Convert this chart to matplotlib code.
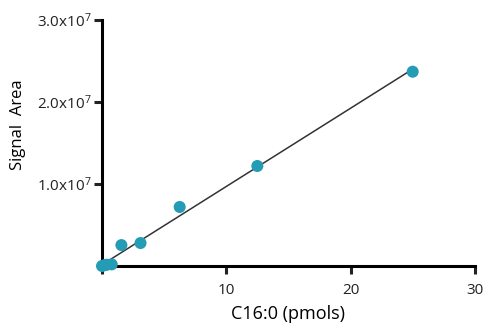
import numpy as np
import matplotlib
matplotlib.use("Agg")
import matplotlib.pyplot as plt
from matplotlib.ticker import FuncFormatter

plt.rcParams['font.family'] = ['Open Sans', 'DejaVu Sans']
plt.rcParams['mathtext.fontset'] = 'custom'
plt.rcParams['mathtext.rm'] = 'Open Sans'
plt.rcParams['mathtext.it'] = 'Open Sans'

# C16:0 standard curve
pmols = [0.0, 0.2, 0.39, 0.78, 1.56, 3.1, 6.25, 12.5, 25.0]
signal = [0.0, 0.1e6, 0.15e6, 0.2e6, 2.55e6, 2.8e6, 7.2e6, 12.2e6, 23.7e6]

x_ticks = [0, 10, 20, 30]
x_labels = ["", "10", "20", "30"]
y_ticks = [1e7, 2e7, 3e7]

fig = plt.figure(figsize=(4.89, 3.29), dpi=100)
ax = fig.add_axes([0.2086, 0.1915, 0.971 - 0.2086, 0.939 - 0.1915])

# least-squares line through the standards
slope, intercept = np.polyfit(pmols, signal, 1)
xs = np.array([0.0, max(pmols)])
ax.plot(xs, slope * xs + intercept, color='#333333', linewidth=1.1, zorder=3)
ax.scatter(pmols, signal, s=75, color='#259cb5', edgecolors='none', zorder=4, clip_on=False)

ax.set_xlim(0, 30)
ax.set_ylim(0, 3e7)
ax.set_xticks(x_ticks)
ax.set_xticklabels(x_labels)
ax.set_yticks(y_ticks)
ax.yaxis.set_major_formatter(FuncFormatter(lambda v, p: r"%.1fx10$^{7}$" % (v / 1e7)))

for side in ['top', 'right']:
    ax.spines[side].set_visible(False)
for side in ['left', 'bottom']:
    ax.spines[side].set_linewidth(2.2)
ax.tick_params(direction='out', length=5.5, width=2.2, labelsize=11, colors='#222222')
ax.tick_params(axis='x', pad=7)
ax.tick_params(axis='y', pad=2)

ax.set_xlabel("C16:0 (pmols)", fontsize=13, labelpad=5)
ax.set_ylabel("Signal  Area", fontsize=12)
ax.yaxis.set_label_coords(-0.204, 0.573)

fig.savefig("out.png", dpi=100)
